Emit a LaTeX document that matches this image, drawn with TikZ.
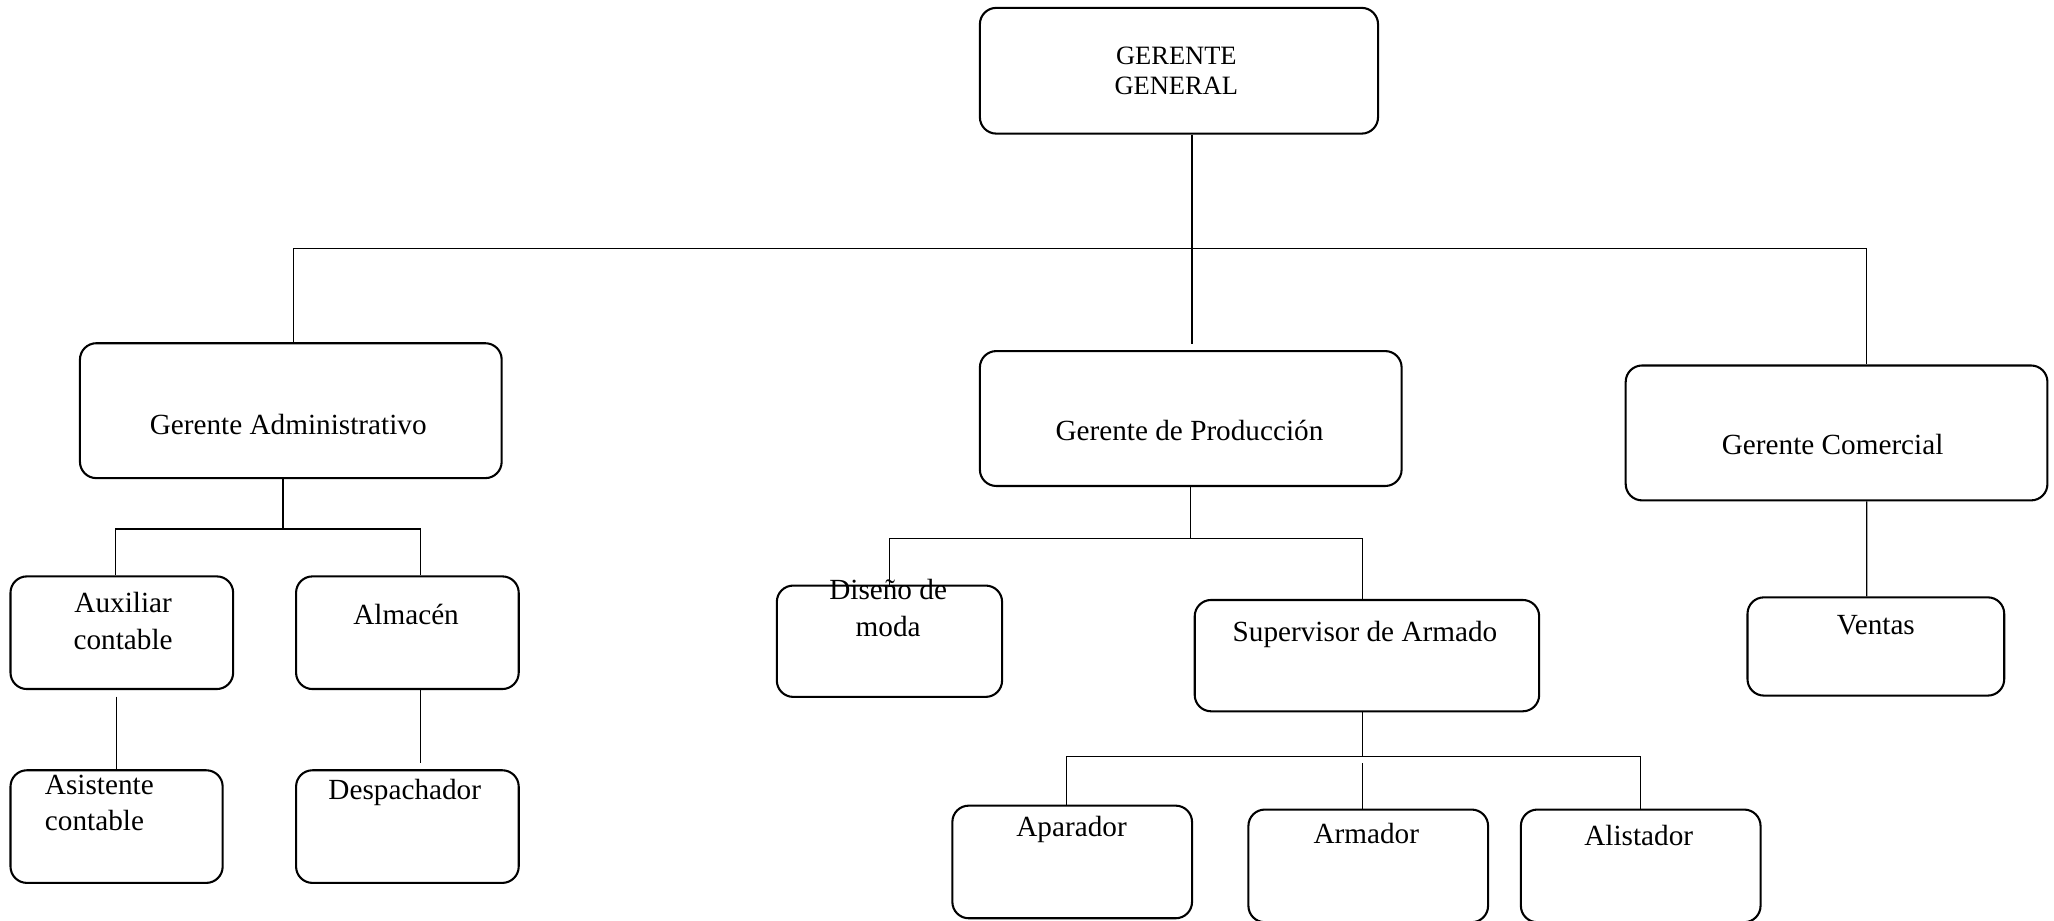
\documentclass[tikz,border=0pt]{standalone}
\usepackage{fontspec}
\setmainfont{Liberation Serif}
\usetikzlibrary{positioning,calc}

\begin{document}
\begin{tikzpicture}[
    x=0.02cm, y=-0.02cm,
    caja/.style={rectangle, draw, line width=0.9pt, rounded corners=2.5mm, minimum width=#1, minimum height=1.72cm, inner sep=0pt},
    caja/.default=3.4cm,
    jefe/.style={caja=6.44cm, minimum height=2.06cm},
    txt/.style={font=\fontsize{12.7}{16}\selectfont, align=center, inner sep=0pt},
    linea/.style={line width=0.5pt}
]
\useasboundingbox (0,0) rectangle (1568,703);

% gerencia general
\node[caja=6.08cm, minimum height=1.92cm] (gg) at (900,54) {};
\node[txt, font=\fontsize{11.5}{13}\selectfont] (gg-t) at (898,54) {GERENTE\\GENERAL};

% gerencias
\node[jefe] (ga) at (222,313.5) {};
\node[txt] (ga-t) at (220,324) {Gerente Administrativo};
\node[jefe] (prod) at (909,319.5) {};
\node[txt] (prod-t) at (908,329) {Gerente de Producción};
\node[jefe] (gc) at (1402,330.5) {};
\node[txt] (gc-t) at (1399,339) {Gerente Comercial};

% area administrativa
\node[caja] (aux) at (93,483) {};
\node[txt] (aux-t) at (94,474) {Auxiliar\\contable};
\node[caja] (alm) at (311,483) {};
\node[txt] (alm-t) at (310,469) {Almacén};
\node[caja=3.24cm] (asis) at (89,631) {};
\node[txt, align=left, anchor=west] (asis-t) at (34,613) {Asistente\\contable};
\node[caja] (desp) at (311,631) {};
\node[txt] (desp-t) at (309,605) {Despachador};

% area de produccion
\node[caja=3.44cm, minimum height=1.7cm] (dis) at (679,489.5) {};
\node[txt] (dis-t) at (678,464) {Diseño de\\moda};
\node[caja=5.26cm, minimum height=1.7cm] (sup) at (1043.5,500.5) {};
\node[txt] (sup-t) at (1042,484) {Supervisor de Armado};
\node[caja=3.66cm] (apar) at (818.5,658) {};
\node[txt] (apar-t) at (818,633) {Aparador};
\node[caja=3.66cm] (arm) at (1044.5,661) {};
\node[txt] (arm-t) at (1043,636) {Armador};
\node[caja=3.66cm] (alis) at (1252.5,661) {};
\node[txt] (alis-t) at (1251,638) {Alistador};

% area comercial
\node[caja=3.92cm, minimum height=1.5cm] (ventas) at (1432,493.5) {};
\node[txt] (ventas-t) at (1432,477) {Ventas};

% lineas
\draw[linea] ([xshift=2mm]gg.south) -- ++(0,87) coordinate (j0);
\draw[linea] ([xshift=0.4mm]ga.north) |- (j0) -| ([xshift=4.6mm]gc.north);
\draw[linea] (j0) -- ([yshift=1mm]j0 |- prod.north);

\draw[linea] ([xshift=-1.2mm]ga.south) -- ++(0,38) coordinate (j1);
\draw[linea] ([xshift=-1mm]aux.north) |- (j1) -| ([xshift=2mm]alm.north);
\draw[linea] ([yshift=-1mm]aux.south -| asis.north) -- (asis.north);
\draw[linea] ([xshift=2mm]alm.south) -- ([xshift=2mm,yshift=1mm]desp.north);

\draw[linea] (prod.south) -- ++(0,39) coordinate (j2);
\draw[linea] (dis.north) |- (j2) -| ([xshift=-0.7mm]sup.north);

\draw[linea] ([xshift=-0.7mm]sup.south) -- ++(0,34) coordinate (j3);
\draw[linea] ([xshift=-0.9mm]apar.north) |- (j3) -| (alis.north);
\draw[linea] ([yshift=-1mm]j3) -- (j3 |- arm.north);

\draw[linea] ([xshift=4.6mm]gc.south) -- ([xshift=-1.4mm]ventas.north);

\end{tikzpicture}
\end{document}
